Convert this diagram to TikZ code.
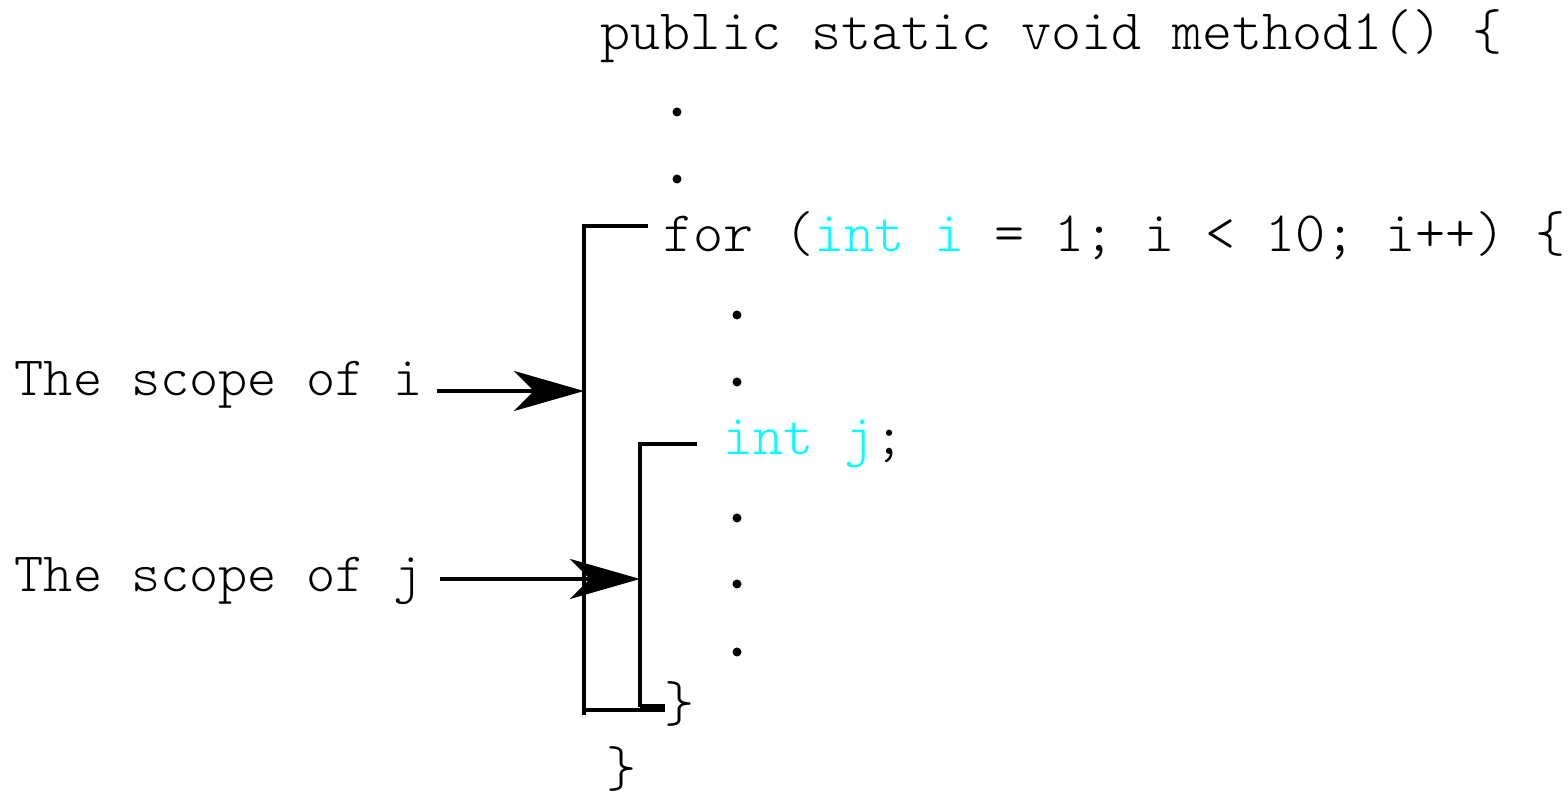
\documentclass[tikz,border=0pt]{standalone}
\usepackage{fontspec}
\usetikzlibrary{arrows.meta}
\newfontfamily\codefont{Latin Modern Mono Light}
\definecolor{kw}{RGB}{0,255,255}
\begin{document}
\begin{tikzpicture}[x=0.1mm,y=-0.1mm,
  code/.style={anchor=base west,inner sep=0pt,font=\fontsize{16.3}{18}\codefont},
  label/.style={anchor=base west,inner sep=0pt,font=\fontsize{15.8}{18}\codefont},
  dotmark/.style={circle,fill=black,inner sep=0pt,minimum size=0.9mm},
  bracket/.style={line width=1.2pt},
  scopearrow/.style={line width=1.2pt,-{Stealth[length=7mm,width=4mm,inset=2mm]}}]
\useasboundingbox (0,0) rectangle (1568,797);

% code listing
\node[code] (m1) at (600,50) {public static void method1() \{};
\node[dotmark] (d1) at (677,112) {};
\node[dotmark] (d2) at (677,179) {};
\node[code] (forl) at (663,252) {for (\textcolor{kw}{int i} = 1; i < 10; i++) \{};
\node[dotmark] (d3) at (737,315) {};
\node[dotmark] (d4) at (737,382) {};
\node[code] (intj) at (723,455) {\textcolor{kw}{int j};};
\node[dotmark] (d5) at (737,518) {};
\node[dotmark] (d6) at (737,584) {};
\node[dotmark] (d7) at (737,652) {};
\node[code] (cb1) at (664,722) {\}};
\node[code] (cb2) at (606,787) {\}};

% scope labels
\node[label] (li) at (14,396) {The scope of i};
\node[label] (lj) at (14,592) {The scope of j};

% bracket corners
\coordinate (oTop) at (584,226);
\coordinate (oTopR) at (648,226);
\coordinate (oBot) at (584,715);
\coordinate (oBotL) at (584,710);
\coordinate (oBotR) at (665,710);
\coordinate (iTop) at (640,444);
\coordinate (iTopR) at (697,444);
\coordinate (iBot) at (640,707);
\coordinate (iBotR) at (665,707);
\coordinate (oMid) at (584,391);
\coordinate (iMid) at (640,579);

% scope of i
\draw[bracket] (oTopR) -- (oTop) -- (oBot);
\draw[bracket] (oBotL) -- (oBotR);
% scope of j
\draw[bracket] (iTopR) -- (iTop) -- (iBot);
\draw[line width=1.8pt] (iBot) -- (iBotR);

% arrows
\draw[scopearrow] (li.east |- oMid) ++(13,0) coordinate (ai) -- (oMid);
\draw[scopearrow] (lj.east |- iMid) ++(16,0) coordinate (aj) -- (iMid);
\end{tikzpicture}
\end{document}
